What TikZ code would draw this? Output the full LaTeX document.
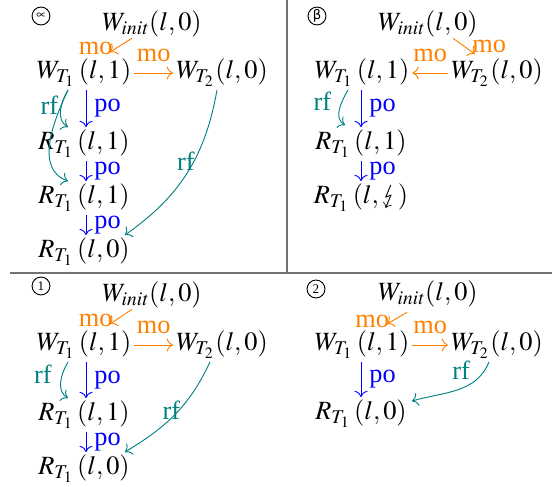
\documentclass[tikz,border=0pt]{standalone}
\usepackage{mathptmx}
\usepackage{stmaryrd}
\usepackage[no-math]{fontspec}
\setmainfont{Liberation Serif}
\newfontfamily\tagfont{DejaVu Sans}
\usetikzlibrary{arrows.meta,calc}
\definecolor{moorange}{RGB}{255,128,0}
\definecolor{rfteal}{RGB}{0,128,128}

\begin{document}
\begin{tikzpicture}[x=0.38pt,y=0.38pt,
ev/.style={inner sep=1pt},
lbl/.style={inner sep=1pt},
tag/.style={draw,circle,line width=0.35pt,inner sep=0pt,minimum size=6.8pt,font=\tiny},
po/.style={->,blue,line width=0.35pt},
mo/.style={->,moorange,line width=0.35pt},
rf/.style={->,rfteal,line width=0.35pt},
sep/.style={draw=black!55,line width=0.6pt}]
\useasboundingbox (0,0) rectangle (552,-487);
\draw[sep] (287,0) -- (287,-273);
\draw[sep] (10,-273) -- (552,-273);
% panel alpha
\node[tag] (atag) at (41,-16) {$\propto$};
\node[ev] (ainit) at (152,-24) {$W_{\mathit{init}}(l,0)$};
\node[ev] (aw1) at (84,-73) {$W_{T_1}\,(l,1)$};
\node[ev] (aw2) at (222,-73) {$W_{T_2}(l,0)$};
\node[ev] (ar1) at (84,-144) {$R_{T_1}\,(l,1)$};
\node[ev] (ar2) at (84,-198) {$R_{T_1}\,(l,1)$};
\node[ev] (ar3) at (84,-252) {$R_{T_1}\,(l,0)$};
\draw[mo] ($(ainit.south)+(-20,2)$) -- node[lbl,left,pos=0.75]{mo} ($(aw1.north)+(26,4)$);
\draw[mo] (aw1.east) -- node[lbl,above=3pt]{mo} (aw2.west);
\draw[po] ($(aw1.south)+(2,0)$) -- node[lbl,right=2pt]{po} ($(ar1.north)+(2,0)$);
\draw[po] ($(ar1.south)+(2,0)$) -- node[lbl,right=2pt]{po} ($(ar2.north)+(2,0)$);
\draw[po] ($(ar2.south)+(2,0)$) -- node[lbl,right=2pt]{po} ($(ar3.north)+(2,0)$);
\draw[rf] ($(aw1.south)+(-16,0)$) to[out=240,in=150] ($(ar1.north)+(-16,0)$);
\draw[rf] ($(aw1.south)+(-16,0)$) to[out=245,in=160] node[lbl,left,pos=0.15]{rf} ($(ar2.north)+(-16,0)$);
\draw[rf] ($(aw2.south)+(-5,0)$) to[out=260,in=35] node[lbl,pos=0.42,xshift=-3pt]{rf} ($(ar3.north east)+(-8,0)$);
% panel beta
\node[tag] (btag) at (317,-16) {\tagfont β};
\node[ev] (binit) at (428,-24) {$W_{\mathit{init}}(l,0)$};
\node[ev] (bw1) at (362,-73) {$W_{T_1}\,(l,1)$};
\node[ev] (bw2) at (497,-73) {$W_{T_2}(l,0)$};
\node[ev] (br1) at (361,-144) {$R_{T_1}\,(l,1)$};
\node[ev] (br2) at (361,-198) {$R_{T_1}\,(l,\lightning)$};
\draw[mo] ($(binit.south)+(25,2)$) -- node[lbl,right,pos=0.5,xshift=2pt]{mo} ($(bw2.north)+(-22,2)$);
\draw[mo] (bw2.west) -- node[lbl,above=3pt]{mo} (bw1.east);
\draw[po] (bw1.south -| br1.north) -- node[lbl,right=2pt]{po} (br1.north);
\draw[po] (br1.south) -- node[lbl,right=2pt]{po} (br2.north);
\draw[rf] ($(bw1.south)+(-14,0)$) to[out=240,in=150] node[lbl,left,pos=0.3,xshift=-3pt]{rf} ($(br1.north)+(-16,2)$);
% panel 1
\node[tag] (ctag) at (41,-286) {1};
\node[ev] (cinit) at (152,-295) {$W_{\mathit{init}}(l,0)$};
\node[ev] (cw1) at (84,-345) {$W_{T_1}\,(l,1)$};
\node[ev] (cw2) at (222,-345) {$W_{T_2}(l,0)$};
\node[ev] (cr1) at (84,-415) {$R_{T_1}\,(l,1)$};
\node[ev] (cr2) at (84,-469) {$R_{T_1}\,(l,0)$};
\draw[mo] ($(cinit.south)+(-20,2)$) -- node[lbl,left,pos=0.75]{mo} ($(cw1.north)+(26,4)$);
\draw[mo] (cw1.east) -- node[lbl,above=3pt]{mo} (cw2.west);
\draw[po] ($(cw1.south)+(2,0)$) -- node[lbl,right=2pt]{po} ($(cr1.north)+(2,0)$);
\draw[po] ($(cr1.south)+(2,0)$) -- node[lbl,right=2pt]{po} ($(cr2.north)+(2,0)$);
\draw[rf] ($(cw1.south)+(-16,0)$) to[out=240,in=150] node[lbl,left,pos=0.3,xshift=-3pt]{rf} ($(cr1.north)+(-16,0)$);
\draw[rf] ($(cw2.south)+(-12,0)$) to[out=245,in=31] node[lbl,pos=0.45,xshift=-3pt]{rf} ($(cr2.north east)+(-8,0)$);
% panel 2
\node[tag] (dtag) at (316,-289) {2};
\node[ev] (dinit) at (428,-294) {$W_{\mathit{init}}(l,0)$};
\node[ev] (dw1) at (362,-345) {$W_{T_1}\,(l,1)$};
\node[ev] (dw2) at (497,-345) {$W_{T_2}(l,0)$};
\node[ev] (dr1) at (361,-414) {$R_{T_1}\,(l,0)$};
\draw[mo] ($(dinit.south)+(-21,-2)$) -- node[lbl,left,pos=0.75]{mo} ($(dw1.north)+(25,4)$);
\draw[mo] (dw1.east) -- node[lbl,above=3pt]{mo} (dw2.west);
\draw[po] (dw1.south -| dr1.north) -- node[lbl,right=2pt]{po} (dr1.north);
\draw[rf] ($(dw2.south)+(-8,0)$) to[out=248,in=16] node[lbl,pos=0.3,above left]{rf} ($(dr1.north east)+(2,-4)$);
\end{tikzpicture}
\end{document}
